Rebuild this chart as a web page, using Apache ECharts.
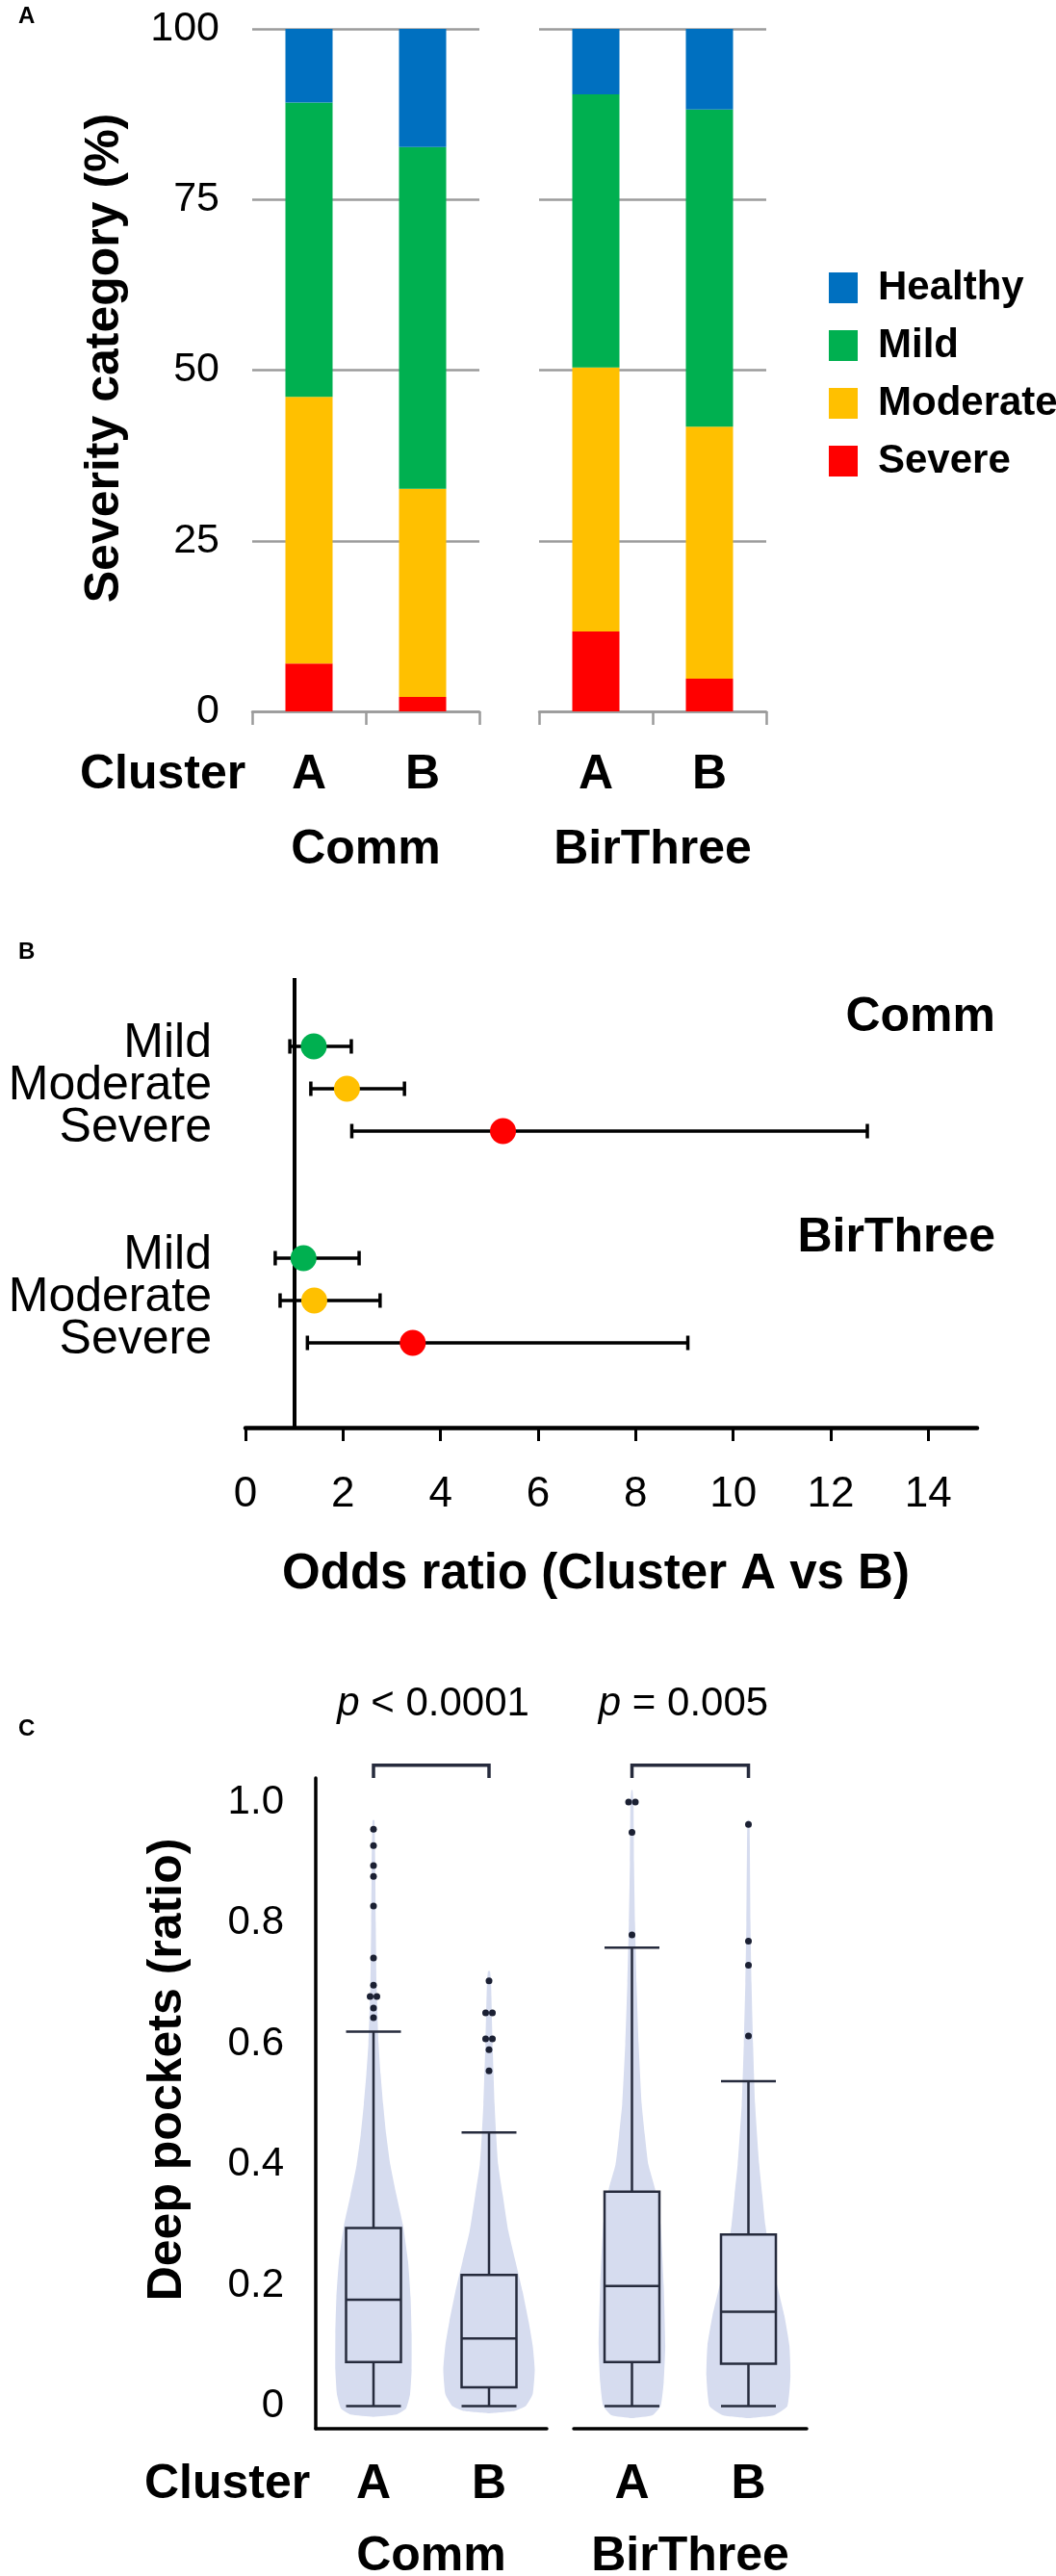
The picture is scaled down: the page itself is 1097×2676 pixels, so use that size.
<!DOCTYPE html>
<html>
<head>
<meta charset="utf-8">
<title>Severity, odds ratio and deep pockets by cluster</title>
<script src="https://cdn.jsdelivr.net/npm/echarts@6.0.0/dist/echarts.min.js"></script>
<style>
  html, body { margin: 0; padding: 0; background: #fff; }
  #chart { width: 1097px; height: 2676px; }
</style>
</head>
<body>
<div id="chart"></div>
<script>
// ---- panel A: severity category (%) per cluster ----
var clusters = ['A', 'B'];
var levels = ['Healthy', 'Mild', 'Moderate', 'Severe'];
var commSevere = [7.0, 2.1];
var commModerate = [39.1, 30.5];
var commMild = [43.1, 50.1];
var commHealthy = [10.8, 17.3];
var birSevere = [11.7, 4.8];
var birModerate = [38.7, 36.9];
var birMild = [40.0, 46.5];
var birHealthy = [9.6, 11.8];
var pctTicks = [0, 25, 50, 75, 100];

// ---- panel B: odds ratio (cluster A vs B) with 95% CI ----
var orLevels = ['Mild', 'Moderate', 'Severe'];
var orCommPoint = [1.40, 2.08, 5.28];
var orCommLow = [0.91, 1.34, 2.18];
var orCommHigh = [2.17, 3.26, 12.75];
var orBirPoint = [1.19, 1.41, 3.43];
var orBirLow = [0.61, 0.71, 1.27];
var orBirHigh = [2.33, 2.76, 9.07];
var orTicks = [0, 2, 4, 6, 8, 10, 12, 14];

// ---- panel C: deep pockets (ratio), [min, Q1, median, Q3, max] ----
var commBoxA = [0, 0.073, 0.176, 0.295, 0.620];
var commBoxB = [0, 0.031, 0.112, 0.217, 0.453];
var birBoxA = [0, 0.073, 0.199, 0.355, 0.759];
var birBoxB = [0, 0.070, 0.156, 0.284, 0.538];
var commOutA = [0.955, 0.928, 0.895, 0.877, 0.828, 0.742, 0.697, 0.678, 0.678, 0.659, 0.643];
var commOutB = [0.704, 0.651, 0.651, 0.608, 0.608, 0.590, 0.555];
var birOutA = [1.0, 1.0, 0.950, 0.780];
var birOutB = [0.963, 0.770, 0.730, 0.613];
var ratioTicks = [0, 0.2, 0.4, 0.6, 0.8, 1.0];
// violin outline: [ratio, relative half width]
var commViolinA = [[-0.018,0],[-0.014,0.45],[-0.004,0.64],[0.02,0.72],[0.06,0.75],[0.12,0.75],[0.18,0.73],[0.24,0.68],[0.3,0.58],[0.35,0.45],[0.4,0.33],[0.45,0.25],[0.5,0.19],[0.55,0.14],[0.6,0.1],[0.7,0.06],[0.8,0.045],[0.9,0.035],[0.97,0.02]];
var commViolinB = [[-0.012,0],[-0.008,0.5],[0,0.72],[0.02,0.86],[0.06,0.9],[0.1,0.86],[0.14,0.78],[0.19,0.66],[0.24,0.52],[0.29,0.38],[0.35,0.27],[0.4,0.18],[0.45,0.14],[0.5,0.11],[0.6,0.07],[0.7,0.04],[0.72,0.02]];
var birViolinA = [[-0.02,0],[-0.015,0.4],[0,0.56],[0.04,0.62],[0.1,0.65],[0.2,0.62],[0.3,0.56],[0.36,0.45],[0.4,0.32],[0.45,0.25],[0.5,0.19],[0.6,0.13],[0.7,0.09],[0.8,0.06],[0.9,0.04],[1.0,0.03],[1.02,0.01]];
var birViolinB = [[-0.02,0],[-0.015,0.5],[0,0.76],[0.05,0.82],[0.1,0.8],[0.15,0.7],[0.2,0.56],[0.25,0.42],[0.3,0.33],[0.35,0.27],[0.4,0.21],[0.5,0.13],[0.6,0.09],[0.7,0.06],[0.8,0.04],[0.97,0.02]];

var FONT = "'Liberation Sans', Arial, Helvetica, sans-serif";
var levelColors = { Healthy: '#0070C0', Mild: '#00B050', Moderate: '#FFC000', Severe: '#FF0000' };
var gridGray = '#9b9b9b';
var boxLine = '#262b3d';
var violinFill = '#D6DCEF';

var chart = echarts.init(document.getElementById('chart'), null, { renderer: 'canvas' });

function txt(text, x, y, size, bold, align, rot) {
    return {
        type: 'text', x: x, y: y, rotation: rot || 0, silent: true,
        style: {
            text: text, fill: '#000', fontFamily: FONT, fontSize: size,
            fontWeight: bold ? 'bold' : 'normal',
            align: align || 'center', verticalAlign: 'middle'
        }
    };
}

// ---- panel A axes ----
function pctX(idx, name) {
    return {
        type: 'category', gridIndex: idx, data: clusters,
        axisLine: { onZero: false, lineStyle: { color: gridGray, width: 2.5 } },
        axisTick: { show: true, length: 14, lineStyle: { color: gridGray, width: 2.5 } },
        axisLabel: { color: '#000', fontFamily: FONT, fontSize: 50, fontWeight: 'bold', margin: 41, lineHeight: 50 },
        name: name, nameLocation: 'middle', nameGap: 119,
        nameTextStyle: { color: '#000', fontFamily: FONT, fontSize: 50, fontWeight: 'bold', lineHeight: 50 }
    };
}
function pctY(idx, showLabel) {
    return {
        type: 'value', gridIndex: idx, min: 0, max: 100, interval: 25,
        axisLine: { show: false }, axisTick: { show: false },
        axisLabel: { show: showLabel, color: '#000', fontFamily: FONT, fontSize: 43, margin: 34 },
        splitLine: { show: true, lineStyle: { color: gridGray, width: 2.5 } }
    };
}

var barSeries = [];
[[commSevere, commModerate, commMild, commHealthy], [birSevere, birModerate, birMild, birHealthy]].forEach(function (set, g) {
    ['Severe', 'Moderate', 'Mild', 'Healthy'].forEach(function (lv, k) {
        barSeries.push({
            type: 'bar', name: lv, xAxisIndex: g, yAxisIndex: g, stack: 'sev' + g,
            barWidth: 49, data: set[k], itemStyle: { color: levelColors[lv] }, silent: true
        });
    });
});

// ---- panel B series ----
var orRowsData = [];
var orBars = [];
var orLabelData = [];
[[orCommPoint, orCommLow, orCommHigh], [orBirPoint, orBirLow, orBirHigh]].forEach(function (grp, g) {
    orLevels.forEach(function (lv, i) {
        var row = g * 5 + i;
        orRowsData.push([grp[0][i], row, i]);
        orBars.push([grp[1][i], grp[2][i], row]);
        orLabelData.push([0, row, i]);
    });
});

var orSeries = [
    {
        type: 'custom', xAxisIndex: 2, yAxisIndex: 2, z: 2, silent: true,
        data: orBars,
        renderItem: function (params, api) {
            var a = api.coord([api.value(0), api.value(2)]);
            var b = api.coord([api.value(1), api.value(2)]);
            var st = { stroke: '#000', lineWidth: 3.5 };
            var cap = 7.5;
            return {
                type: 'group', children: [
                    { type: 'line', shape: { x1: a[0], y1: a[1], x2: b[0], y2: b[1] }, style: st },
                    { type: 'line', shape: { x1: a[0], y1: a[1] - cap, x2: a[0], y2: a[1] + cap }, style: st },
                    { type: 'line', shape: { x1: b[0], y1: b[1] - cap, x2: b[0], y2: b[1] + cap }, style: st }
                ]
            };
        }
    },
    {
        // row labels (Mild / Moderate / Severe) placed on the rows of the y scale
        type: 'custom', xAxisIndex: 2, yAxisIndex: 2, z: 2, silent: true, clip: false,
        data: orLabelData,
        renderItem: function (params, api) {
            var p = api.coord([api.value(0), api.value(1)]);
            return {
                type: 'text', x: p[0] - 35, y: p[1] - 3,
                style: {
                    text: orLevels[api.value(2)], fill: '#000', fontFamily: FONT, fontSize: 50,
                    align: 'right', verticalAlign: 'middle'
                }
            };
        }
    },
    {
        type: 'scatter', xAxisIndex: 2, yAxisIndex: 2, z: 3, silent: true,
        symbol: 'circle', symbolSize: 27, data: orRowsData,
        itemStyle: { opacity: 1, color: function (p) { return levelColors[orLevels[p.data[2]]]; } },
        markLine: {
            silent: true, z: 1, symbol: ['none', 'none'], label: { show: false },
            lineStyle: { color: '#000', width: 4, type: 'solid' },
            emphasis: { disabled: true },
            data: [{ xAxis: 1 }]
        }
    }
];

// ---- panel C series ----
function outlierPoints(lists) {
    var pts = [];
    lists.forEach(function (vals, ci) {
        vals.forEach(function (v, k) {
            var dup = vals.filter(function (u) { return u === v; }).length > 1;
            var first = vals.indexOf(v) === k;
            pts.push({ value: [ci, v], symbolOffset: dup ? [first ? -3.5 : 3.5, 0] : [0, 0] });
        });
    });
    return pts;
}
function violinSeries(ax, profiles) {
    return {
        type: 'custom', xAxisIndex: ax, yAxisIndex: ax, z: 1, silent: true,
        data: [[0], [1]],
        renderItem: function (params, api) {
            var idx = api.value(0);
            var prof = profiles[idx];
            var half = api.size([1, 0])[0] * 0.44;
            var left = [], right = [];
            prof.forEach(function (p) {
                var c = api.coord([idx, p[0]]);
                left.push([c[0] - p[1] * half, c[1]]);
                right.push([c[0] + p[1] * half, c[1]]);
            });
            return {
                type: 'polygon', shape: { points: left.concat(right.reverse()), smooth: 0.15 },
                style: { fill: violinFill }
            };
        }
    };
}
function bracketSeries(ax) {
    return {
        type: 'custom', xAxisIndex: ax, yAxisIndex: ax, z: 3, silent: true, clip: false,
        data: [[0, 1]],
        renderItem: function (params, api) {
            var l0 = api.coord([api.value(0), 1.04]);
            var l1 = api.coord([api.value(0), 1.061]);
            var r1 = api.coord([api.value(1), 1.061]);
            var r0 = api.coord([api.value(1), 1.04]);
            return {
                type: 'polyline', shape: { points: [l0, l1, r1, r0] },
                style: { stroke: boxLine, lineWidth: 3.5, fill: null }
            };
        }
    };
}
function boxSeries(ax, boxes, outs, profiles) {
    return [
        violinSeries(ax, profiles),
        {
            type: 'boxplot', xAxisIndex: ax, yAxisIndex: ax, z: 2, silent: true,
            boxWidth: [57, 57], data: boxes,
            itemStyle: { color: violinFill, borderColor: boxLine, borderWidth: 2.5 }
        },
        {
            type: 'scatter', xAxisIndex: ax, yAxisIndex: ax, z: 3, silent: true,
            symbolSize: 7, data: outlierPoints(outs),
            itemStyle: { color: '#1b2033', opacity: 1 }
        },
        bracketSeries(ax)
    ];
}
function ratioX(idx, name) {
    return {
        type: 'category', gridIndex: idx, data: clusters,
        axisLine: { onZero: false, lineStyle: { color: '#000', width: 3.5 } },
        axisTick: { show: false },
        axisLabel: { color: '#000', fontFamily: FONT, fontSize: 50, fontWeight: 'bold', margin: 33, lineHeight: 50 },
        name: name, nameLocation: 'middle', nameGap: 108,
        nameTextStyle: { color: '#000', fontFamily: FONT, fontSize: 50, fontWeight: 'bold', lineHeight: 50 }
    };
}
function ratioY(idx, first) {
    return {
        type: 'value', gridIndex: idx, min: -0.0375, max: 1.04,
        axisLine: { show: first, onZero: false, lineStyle: { color: '#000', width: 3.5 } },
        axisTick: { show: false }, splitLine: { show: false },
        axisLabel: {
            show: first, customValues: ratioTicks, color: '#000', fontFamily: FONT, fontSize: 42, margin: 33,
            formatter: function (v) { return v === 0 ? '0' : v.toFixed(1); }
        }
    };
}

var option = {
    animation: false,
    backgroundColor: '#fff',
    textStyle: { fontFamily: FONT },
    legend: {
        orient: 'vertical', left: 856, top: 273, icon: 'rect',
        itemWidth: 30, itemHeight: 32, itemGap: 18, selectedMode: false,
        data: levels,
        textStyle: { color: '#000', fontFamily: FONT, fontSize: 42, fontWeight: 'bold', lineHeight: 42, padding: [0, 0, 0, 16] }
    },
    grid: [
        { left: 262, top: 30, width: 236, height: 709, outerBoundsMode: 'none' },
        { left: 560, top: 30, width: 236, height: 709, outerBoundsMode: 'none' },
        { left: 255, top: 1016, width: 760, height: 467, outerBoundsMode: 'none' },
        { left: 328, top: 1847, width: 240, height: 676, outerBoundsMode: 'none' },
        { left: 596, top: 1847, width: 242, height: 676, outerBoundsMode: 'none' }
    ],
    xAxis: [
        pctX(0, 'Comm'),
        pctX(1, 'BirThree'),
        {
            type: 'value', gridIndex: 2, min: 0, max: 15,
            axisLine: { show: true, onZero: false, lineStyle: { color: '#000', width: 4.5 } },
            axisTick: { show: true, customValues: orTicks, length: 14, lineStyle: { color: '#000', width: 3 } },
            axisLabel: { customValues: orTicks, color: '#000', fontFamily: FONT, fontSize: 44, margin: 48, lineHeight: 44 },
            splitLine: { show: false },
            name: 'Odds ratio (Cluster A vs B)', nameLocation: 'middle', nameGap: 127,
            nameTextStyle: { color: '#000', fontFamily: FONT, fontSize: 51, fontWeight: 'bold', lineHeight: 51, padding: [0, 32, 0, 0] }
        },
        ratioX(3, 'Comm'),
        ratioX(4, 'BirThree')
    ],
    yAxis: [
        pctY(0, true),
        pctY(1, false),
        {
            type: 'value', gridIndex: 2, inverse: true, min: -1.614, max: 9.0,
            axisLine: { show: false, onZero: false }, axisTick: { show: false }, splitLine: { show: false },
            axisLabel: { show: false }
        },
        ratioY(3, true),
        ratioY(4, false)
    ],
    graphic: [
        txt('A', 19, 17, 24, true, 'left'),
        txt('B', 19, 989, 24, true, 'left'),
        txt('C', 19, 1796, 24, true, 'left'),
        txt('Severity category (%)', 109, 372, 50, true, 'center', Math.PI / 2),
        txt('Cluster', 83, 805, 50, true, 'left'),
        txt('Comm', 1034, 1057, 50, true, 'right'),
        txt('BirThree', 1034, 1286, 50, true, 'right'),
        txt('Deep pockets (ratio)', 174, 2150, 50, true, 'center', Math.PI / 2),
        txt('Cluster', 150, 2581, 50, true, 'left'),
        {
            type: 'text', x: 450, y: 1770, silent: true,
            style: {
                text: '{i|p} < 0.0001', fill: '#000', fontFamily: FONT, fontSize: 42, align: 'center', verticalAlign: 'middle',
                rich: { i: { fontStyle: 'italic', fontFamily: FONT, fontSize: 42, fill: '#000' } }
            }
        },
        {
            type: 'text', x: 710, y: 1770, silent: true,
            style: {
                text: '{i|p} = 0.005', fill: '#000', fontFamily: FONT, fontSize: 42, align: 'center', verticalAlign: 'middle',
                rich: { i: { fontStyle: 'italic', fontFamily: FONT, fontSize: 42, fill: '#000' } }
            }
        }
    ],
    series: barSeries
        .concat(orSeries)
        .concat(boxSeries(3, [commBoxA, commBoxB], [commOutA, commOutB], [commViolinA, commViolinB]))
        .concat(boxSeries(4, [birBoxA, birBoxB], [birOutA, birOutB], [birViolinA, birViolinB]))
};

chart.setOption(option);
</script>
</body>
</html>
